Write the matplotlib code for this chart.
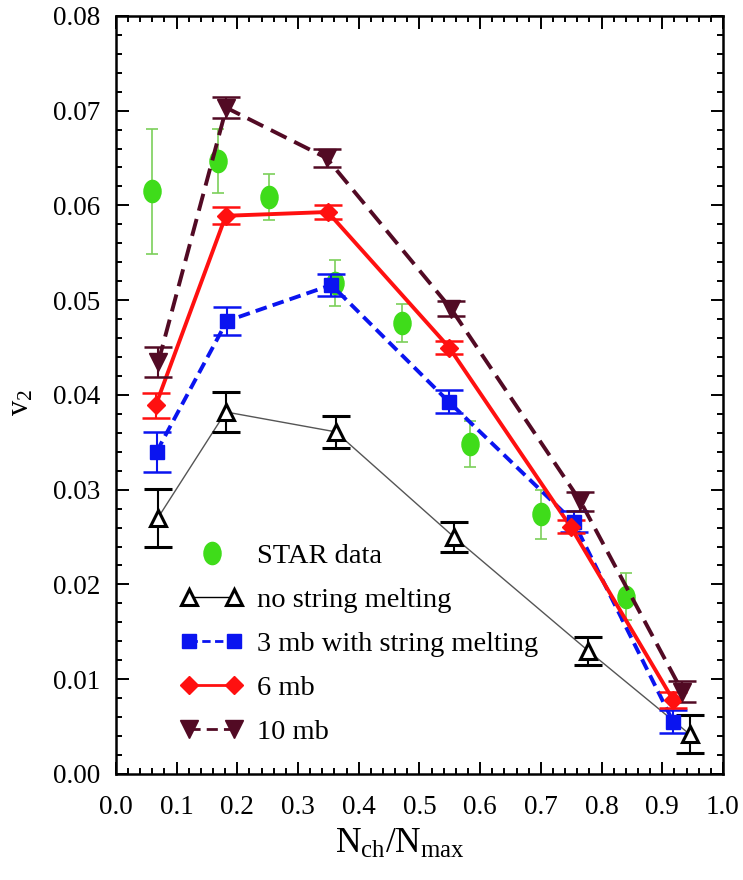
import numpy as np
import matplotlib
matplotlib.use("Agg")
import matplotlib.pyplot as plt
from matplotlib.lines import Line2D
from matplotlib.legend_handler import HandlerLine2D
from matplotlib.ticker import MultipleLocator
from matplotlib.path import Path
from matplotlib.transforms import Affine2D

plt.rcParams['font.family'] = ['Liberation Serif', 'DejaVu Serif']
plt.rcParams['mathtext.fontset'] = 'custom'
plt.rcParams['mathtext.rm'] = 'Liberation Serif'
plt.rcParams['mathtext.it'] = 'Liberation Serif:italic'

# STAR measurements
star_x = [0.060, 0.169, 0.252, 0.361, 0.4705, 0.584, 0.700, 0.841]
star_v2 = [0.0615, 0.0647, 0.0609, 0.0518, 0.0476, 0.0348, 0.0274, 0.0187]
star_err = [0.0066, 0.0034, 0.0024, 0.0024, 0.0020, 0.0024, 0.0026, 0.0025]

# AMPT without string melting
nsm_x = [0.069, 0.181, 0.362, 0.557, 0.778, 0.945]
nsm_v2 = [0.0270, 0.0382, 0.0361, 0.0250, 0.0130, 0.0042]
nsm_err = [0.0031, 0.0021, 0.0017, 0.0016, 0.0015, 0.0020]

# string melting, 3 mb
sm3_x = [0.067, 0.183, 0.355, 0.548, 0.754, 0.918]
sm3_v2 = [0.0340, 0.0478, 0.0516, 0.0393, 0.0266, 0.0055]
sm3_err = [0.0021, 0.0015, 0.0012, 0.0012, 0.0011, 0.0012]

# string melting, 6 mb
sm6_x = [0.0656, 0.181, 0.349, 0.549, 0.749, 0.918]
sm6_v2 = [0.0389, 0.0589, 0.0593, 0.0450, 0.0261, 0.0078]
sm6_err = [0.0013, 0.0009, 0.0007, 0.0007, 0.0007, 0.0008]

# string melting, 10 mb
sm10_x = [0.070, 0.182, 0.347, 0.552, 0.765, 0.933]
sm10_v2 = [0.0435, 0.0703, 0.0650, 0.0491, 0.0288, 0.0087]
sm10_err = [0.0016, 0.0011, 0.0010, 0.0008, 0.0010, 0.0011]

labels = ["STAR data", "no string melting", "3 mb with string melting",
          "6 mb", "10 mb"]

green = '#3fdc1a'
green_err = '#7ccf5a'
blue = '#0a14f0'
red = '#ff1010'
maroon = '#520a24'

# slightly tall ellipse used for the data points
ellipse = Path.unit_circle().transformed(Affine2D().scale(1.0, 1.3))

fig = plt.figure(figsize=(7.43, 8.8), dpi=100)
ax = fig.add_axes([0.156, 0.1205, 0.817, 0.8615])

ax.errorbar(star_x, star_v2, yerr=star_err, fmt='none', ecolor=green_err,
            elinewidth=1.2, capsize=4.5, capthick=1.2, zorder=2)
ax.plot(star_x, star_v2, ls='none', marker=ellipse, ms=16, mfc=green,
        mec=green, zorder=2)

ax.plot(nsm_x, nsm_v2, '-', color='#555555', lw=1.0, zorder=3)
ax.errorbar(nsm_x, nsm_v2, yerr=nsm_err, fmt='^', ms=12, mfc='white',
            mec='black', mew=2.2, ecolor='black', elinewidth=1.5,
            capsize=10, capthick=1.8, zorder=4)

ax.plot(sm3_x, sm3_v2, '--', color=blue, lw=2.8, dashes=(3, 1.6), zorder=3)
ax.errorbar(sm3_x, sm3_v2, yerr=sm3_err, fmt='s', ms=10, mfc=blue, mec=blue,
            ecolor=blue, elinewidth=1.5, capsize=10, capthick=1.8, zorder=4)

ax.plot(sm6_x, sm6_v2, '-', color=red, lw=2.8, zorder=3)
ax.errorbar(sm6_x, sm6_v2, yerr=sm6_err, fmt='D', ms=9, mfc=red, mec=red,
            ecolor=red, elinewidth=1.5, capsize=10, capthick=1.8, zorder=4)

ax.plot(sm10_x, sm10_v2, '--', color=maroon, lw=2.8, dashes=(4.5, 2.2), zorder=3)
ax.errorbar(sm10_x, sm10_v2, yerr=sm10_err, fmt='v', ms=13, mfc=maroon,
            mec=maroon, ecolor=maroon, elinewidth=1.5, capsize=10,
            capthick=1.8, zorder=4)

ax.set_xlim(0.0, 1.0)
ax.set_ylim(0.0, 0.08)
ax.xaxis.set_major_locator(MultipleLocator(0.1))
ax.xaxis.set_minor_locator(MultipleLocator(0.02))
ax.yaxis.set_major_locator(MultipleLocator(0.01))
ax.yaxis.set_minor_locator(MultipleLocator(0.002))
ax.xaxis.set_major_formatter(plt.FuncFormatter(lambda v, p: f"{v:.1f}"))
ax.yaxis.set_major_formatter(plt.FuncFormatter(lambda v, p: f"{v:.2f}"))
ax.tick_params(which='both', direction='in', top=True, right=True,
               labelsize=19.5, width=1.4)
ax.tick_params(axis='x', which='major', pad=15)
ax.tick_params(axis='y', which='major', pad=11)
ax.tick_params(which='major', length=9)
ax.tick_params(which='minor', length=4.5)
for s in ax.spines.values():
    s.set_linewidth(1.8)

ax.set_xlabel(r'N$_{\mathrm{ch}}$/N$_{\mathrm{max}}$', fontsize=25.5)
ax.xaxis.set_label_coords(0.468, -0.071)
ax.set_ylabel(r'v$_2$', fontsize=22)
ax.yaxis.set_label_coords(-0.133, 0.49)


class RightMarkerHandler(HandlerLine2D):
    """Single legend marker placed at the right end of the handle."""
    def get_xdata(self, legend, xdescent, ydescent, width, height, fontsize):
        xdata = np.array([-xdescent, -xdescent + width])
        return xdata, np.array([-xdescent + width])


h_star = Line2D([], [], ls='none', marker=ellipse, ms=16, mfc=green, mec=green)
h_nsm = Line2D([], [], ls='-', color='black', lw=1.0, marker='^', ms=12,
               mfc='white', mec='black', mew=2.2)
h_sm3 = Line2D([], [], ls='--', color=blue, lw=2.0, dashes=(3, 1.6),
               marker='s', ms=10, mfc=blue, mec=blue)
h_sm6 = Line2D([], [], ls='-', color=red, lw=2.0, marker='D', ms=9,
               mfc=red, mec=red)
h_sm10 = Line2D([], [], ls='--', color=maroon, lw=2.0, dashes=(4, 2.2),
                marker='v', ms=13, mfc=maroon, mec=maroon)

leg = ax.legend([h_star, h_nsm, h_sm3, h_sm6, h_sm10], labels,
                handler_map={h_star: RightMarkerHandler(numpoints=1)},
                numpoints=2, loc='upper left',
                bbox_to_anchor=(0.106, 0.3044), borderaxespad=0, borderpad=0,
                frameon=False, fontsize=20.5, handlelength=2.2,
                handletextpad=0.5, labelspacing=0.63)

fig.savefig('out.png', dpi=100)
